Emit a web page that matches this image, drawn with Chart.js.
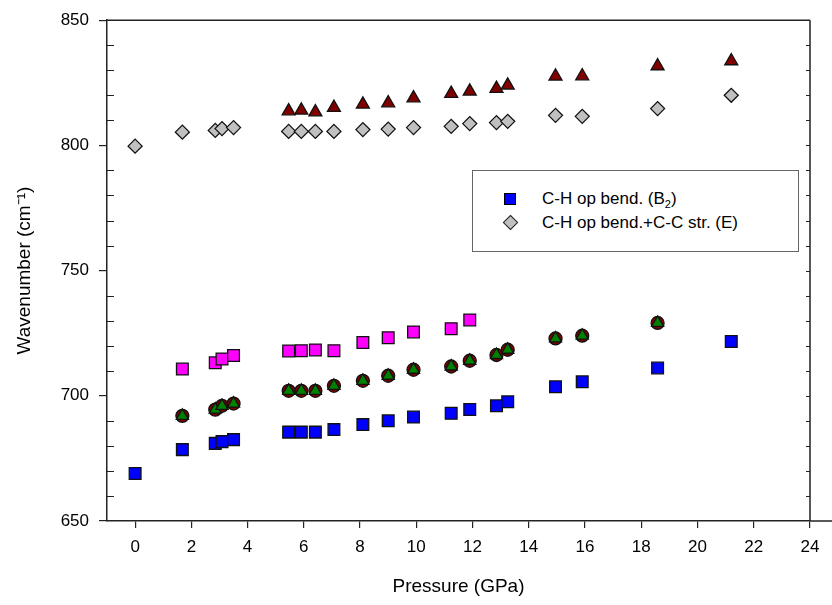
<!DOCTYPE html>
<html>
<head>
<meta charset="utf-8">
<script src="https://cdn.jsdelivr.net/npm/chart.js@4"></script>
<style>
  body { margin: 0; background: #fff; }
  #wrap { position: relative; width: 832px; height: 605px; }
  #legendBox {
    position: absolute; left: 472px; top: 170px; width: 325px; height: 80px;
    border: 1px solid #666; background: #fff;
    font-family: 'Liberation Sans', Arial, sans-serif; font-size: 17px; color: #000;
  }
  .item { position: absolute; left: 0; height: 20px; line-height: 20px; }
  .item span.txt { position: absolute; left: 69px; white-space: nowrap; }
  .sq { position: absolute; left: 31px; top: 4px; width: 10px; height: 10px; background: #0000ff; border: 1px solid #000; }
  .dm { position: absolute; left: 32px; top: 4px; width: 9px; height: 9px; background: #c0c0c0; border: 1.5px solid #222; transform: rotate(45deg); }
  sub { font-size: 11px; line-height: 0; }
</style>
</head>
<body>
<div id="wrap">
  <canvas id="chart" width="832" height="605"></canvas>
  <div id="legendBox">
    <div class="item" style="top:18px"><div class="sq"></div><span class="txt">C-H op bend. (B<sub>2</sub>)</span></div>
    <div class="item" style="top:42px"><div class="dm"></div><span class="txt">C-H op bend.+C-C str. (E)</span></div>
  </div>
</div>
<script>
// Pressure (GPa) points shared by all series
const pressures = [0, 1.68, 2.85, 3.09, 3.5, 5.46, 5.91, 6.41, 7.07, 8.1, 9.0, 9.9, 11.24, 11.9, 12.85, 13.25, 14.95, 15.9, 18.58, 21.2];

// Wavenumbers (cm-1), null = not measured at that pressure
const blueB2 = [669, 678.5, 681, 681.7, 682.5, 685.5, 685.5, 685.5, 686.5, 688.5, 690, 691.5, 693, 694.5, 696, 697.6, 703.6, 705.6, 711.1, 721.7];
const grayE = [799.7, 805.3, 806, 806.7, 807.1, 805.6, 805.6, 805.6, 805.6, 806.3, 806.5, 807.1, 807.6, 808.7, 809.1, 809.6, 812, 811.6, 814.7, 820];
const redUpper = [null, null, null, null, null, 813.7, 814, 813.3, 815.1, 816.4, 816.9, 818.9, 820.7, 821.6, 822.7, 824, 827.6, 827.7, 831.7, 833.7];
const magenta = [null, 710.7, 713.2, 714.7, 716.1, 717.9, 718, 718.3, 718, 721.3, 723.2, 725.5, 726.8, 730.3, null, null, null, null, null, null];
const greenMid = [null, 692, 694.5, 696, 696.9, 702, 702, 702, 704, 706, 708, 710.4, 711.7, 714, 716.3, 718.4, 722.9, 724, 729.1, null];

const xTicks = [0, 2, 4, 6, 8, 10, 12, 14, 16, 18, 20, 22, 24];
const yTicks = [650, 700, 750, 800, 850];

const FONT = "'Liberation Sans', Arial, sans-serif";
const AXIS = '#222';

function pts(ys) {
    return pressures.map((p, i) => ys[i] == null ? null : { x: p, y: ys[i] }).filter(Boolean);
}

function series(data, style, color, radius, order) {
    return {
        data: pts(data),
        pointStyle: style,
        pointRadius: radius,
        pointBackgroundColor: color,
        pointBorderColor: '#111',
        pointBorderWidth: 1.3,
        showLine: false,
        order: order
    };
}

// frame + minor ticks
const framePlugin = {
    id: 'frame',
    afterDraw(chart) {
        const ctx = chart.ctx;
        const a = chart.chartArea;
        const y = chart.scales.y;
        ctx.save();
        ctx.strokeStyle = AXIS;
        ctx.lineWidth = 1.5;
        ctx.beginPath();
        ctx.moveTo(a.left, a.top); ctx.lineTo(a.right, a.top);
        ctx.moveTo(a.right, a.top); ctx.lineTo(a.right, a.bottom);
        ctx.moveTo(a.right, a.bottom); ctx.lineTo(chart.width, a.bottom);
        ctx.stroke();
        ctx.lineWidth = 1.2;
        ctx.beginPath();
        for (let v = y.min; v <= y.max; v += 10) {
            const py = Math.round(y.getPixelForValue(v)) + 0.5;
            if (v % 50 !== 0) {
                ctx.moveTo(a.left, py); ctx.lineTo(a.left + 7, py);
            }
            if (v > y.min && v < y.max) {
                ctx.moveTo(a.right, py); ctx.lineTo(a.right - 4, py);
            }
        }
        ctx.stroke();
        ctx.restore();
    }
};

new Chart(document.getElementById('chart').getContext('2d'), {
    type: 'scatter',
    data: {
        datasets: [
            series(blueB2, 'rect', '#0000ff', 8.3, 0),
            series(grayE, 'rectRot', '#c0c0c0', 7, 0),
            series(redUpper, 'triangle', '#800000', 7.5, 0),
            series(magenta, 'rect', '#ff00ff', 8.3, 0),
            series(greenMid, 'circle', '#800000', 6.5, 2),
            series(greenMid, 'triangle', '#008000', 7, 1)
        ]
    },
    options: {
        responsive: false,
        animation: false,
        layout: { padding: { top: 20, right: 22, left: 0, bottom: 0 } },
        plugins: {
            legend: { display: false },
            tooltip: { enabled: false }
        },
        scales: {
            x: {
                type: 'linear',
                min: -1,
                max: 24,
                afterBuildTicks: s => { s.ticks = xTicks.map(v => ({ value: v })); },
                afterFit: s => { s.height = 84; },
                grid: { drawOnChartArea: false, tickLength: 7, color: AXIS, lineWidth: 1.2 },
                border: { color: AXIS, width: 1.5 },
                ticks: { color: '#000', padding: 9, maxRotation: 0, font: { family: FONT, size: 17 } },
                title: {
                    display: true,
                    text: 'Pressure (GPa)',
                    color: '#000',
                    font: { family: FONT, size: 19 },
                    padding: { top: 0, bottom: 7 }
                }
            },
            y: {
                min: 650,
                max: 850,
                afterBuildTicks: s => { s.ticks = yTicks.map(v => ({ value: v })); },
                afterFit: s => { s.width = 107; },
                grid: { drawOnChartArea: false, tickLength: 8, color: AXIS, lineWidth: 1.2 },
                border: { color: AXIS, width: 1.5 },
                ticks: { color: '#000', padding: 10, font: { family: FONT, size: 17 } },
                title: {
                    display: true,
                    text: 'Wavenumber (cm\u207B\u00B9)',
                    color: '#000',
                    font: { family: FONT, size: 19 },
                    padding: { top: 13, bottom: 0 }
                }
            }
        }
    },
    plugins: [framePlugin]
});
</script>
</body>
</html>
